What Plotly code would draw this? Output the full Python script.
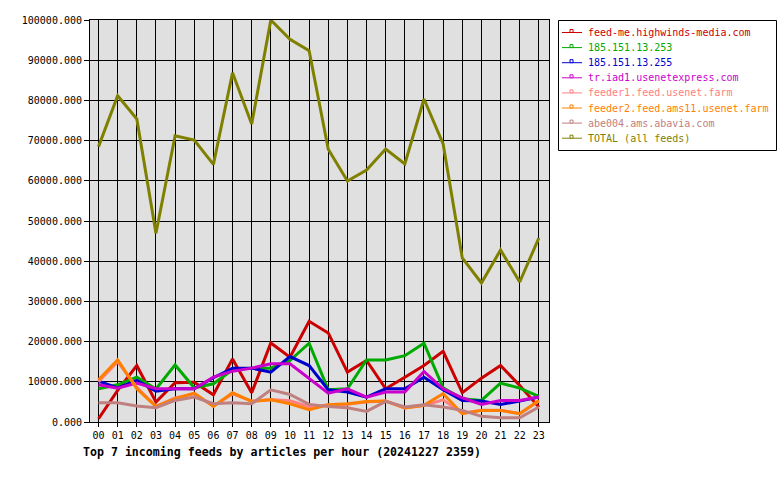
import plotly.graph_objects as go

hours = ["%02d" % h for h in range(24)]

feed_names = [
    "feed-me.highwinds-media.com",
    "185.151.13.253",
    "185.151.13.255",
    "tr.iad1.usenetexpress.com",
    "feeder1.feed.usenet.farm",
    "feeder2.feed.ams11.usenet.farm",
    "abe004.ams.abavia.com",
    "TOTAL (all feeds)",
]

feed_me = [800, 7850, 14050, 4960, 9750, 9900, 6780, 15700, 7270, 19670, 16100, 25040,
           22150, 12400, 15290, 8260, 11150, 14050, 17600, 7270, 10900, 14050, 9090, 3700]
ip_253 = [8260, 9260, 11150, 8200, 14200, 8500, 9500, 13000, 13400, 13400, 15300, 19600,
          8000, 8260, 15450, 15450, 16500, 19600, 8500, 5800, 5370, 9670, 8430, 6360]
ip_255 = [10170, 8500, 10330, 7690, 8260, 8260, 11000, 13400, 13400, 12400, 16280, 14050,
          8000, 7440, 6200, 8260, 8260, 11150, 8000, 5370, 5200, 4380, 5200, 6200]
tr_iad1 = [9260, 8430, 9670, 8260, 8260, 8260, 11150, 12640, 13400, 14460, 14460, 10740,
           7190, 8260, 6200, 7440, 7440, 12560, 8260, 6030, 4380, 5370, 5370, 6200]
feeder1 = [10000, 15000, 8600, 3900, 6000, 7000, 4000, 7000, 5200, 5600, 5300, 3800,
           4200, 4400, 5000, 5200, 3500, 4100, 5500, 2200, 2900, 2900, 2100, 5200]
feeder2 = [10500, 15450, 8260, 3880, 5790, 7190, 3880, 7270, 5120, 5540, 4550, 3060,
           4300, 4550, 5120, 5200, 3470, 4130, 7020, 2070, 2890, 2890, 2070, 5370]
abe004 = [4790, 4790, 3970, 3550, 5370, 6200, 4550, 4790, 4550, 8020, 6860, 4380,
          3880, 3550, 2640, 5120, 3720, 4300, 3720, 2890, 1400, 1070, 1070, 3720]
total = [68500, 81170, 75370, 46940, 71220, 70150, 64100, 86890, 74130, 100000, 95200, 92370,
         67840, 59950, 62690, 67910, 64180, 80350, 69150, 40800, 34580, 42790, 34830, 45770]

series = [feed_me, ip_253, ip_255, tr_iad1, feeder1, feeder2, abe004, total]
colors = ["#cc0000", "#00aa00", "#0000cc", "#cc00cc", "#ff8080", "#ff8000", "#c08080", "#808000"]

W, H = 780, 480
ML, MR, MT, MB = 90, 231, 20, 58
PW, PH = W - ML - MR, H - MT - MB

def px2x(px):
    return (px - ML) / PW

def py2y(py):
    return 1 - (py - MT) / PH

fig = go.Figure()
for name, vals, col in zip(feed_names, series, colors):
    fig.add_trace(go.Scatter(x=list(range(24)), y=vals, mode="lines", name=name,
                             line=dict(color=col, width=3), showlegend=False))

mono = "DejaVu Sans Mono"

# custom legend box
shapes = [dict(type="rect", xref="paper", yref="paper",
               x0=px2x(558.5), x1=px2x(776.5), y0=py2y(20.5), y1=py2y(150.5),
               line=dict(color="black", width=1), fillcolor="white", layer="above")]
annotations = []
for i, (name, col) in enumerate(zip(feed_names, colors)):
    yc = 32.5 + 15.1 * i
    shapes.append(dict(type="line", xref="paper", yref="paper",
                       x0=px2x(562), x1=px2x(582), y0=py2y(yc), y1=py2y(yc),
                       line=dict(color=col, width=1), layer="above"))
    shapes.append(dict(type="rect", xref="paper", yref="paper",
                       x0=px2x(570), x1=px2x(573), y0=py2y(yc - 3), y1=py2y(yc),
                       line=dict(color=col, width=1), fillcolor="white", layer="above"))
    annotations.append(dict(xref="paper", yref="paper", x=px2x(586), y=py2y(yc),
                            xanchor="left", yanchor="middle", showarrow=False,
                            text=name, font=dict(family=mono, size=10, color=col)))

fig.update_layout(
    width=W, height=H, autosize=False,
    margin=dict(l=ML, r=MR, t=MT, b=MB),
    paper_bgcolor="white", plot_bgcolor="#e0e0e0",
    showlegend=False,
    shapes=shapes, annotations=annotations,
    title=dict(text="<b>Top 7 incoming feeds by articles per hour (20241227 2359)</b>",
               x=83 / W, xanchor="left", xref="container",
               y=1 - 452 / H, yanchor="middle", yref="container",
               font=dict(family=mono, size=11.6, color="black")),
    font=dict(family=mono, size=10, color="black"),
)
fig.update_xaxes(range=[-0.445, 23.53], tickmode="array", tickvals=list(range(24)), ticktext=hours,
                 showgrid=True, gridcolor="black", gridwidth=1,
                 showline=True, linecolor="black", linewidth=1, mirror=True,
                 ticks="outside", ticklen=4, tickcolor="black", zeroline=False,
                 tickfont=dict(family=mono, size=10, color="black"))
fig.update_yaxes(range=[0, 100000], tickmode="array", tickvals=list(range(0, 100001, 10000)),
                 tickformat=".3f",
                 showgrid=True, gridcolor="black", gridwidth=1,
                 showline=True, linecolor="black", linewidth=1, mirror=True,
                 ticks="outside", ticklen=5, tickcolor="black", zeroline=False,
                 tickfont=dict(family=mono, size=10, color="black"))

fig.write_html("out.html")
